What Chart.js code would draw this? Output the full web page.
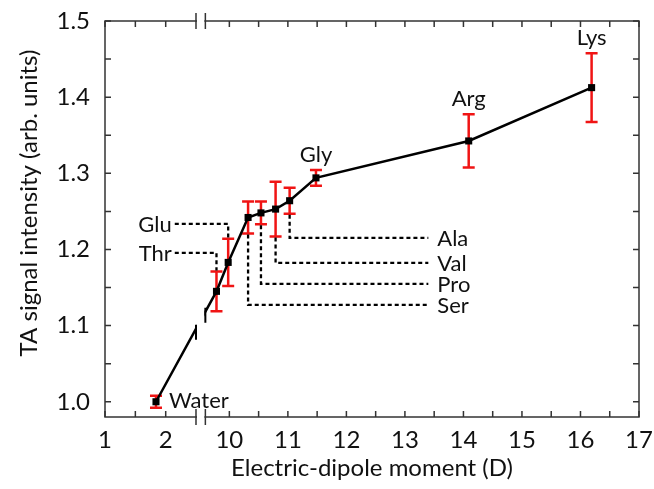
<!DOCTYPE html>
<html>
<head>
<meta charset="utf-8">
<script src="https://cdn.jsdelivr.net/npm/chart.js@4.4.0/dist/chart.umd.min.js"></script>
<style>
  html, body { margin: 0; padding: 0; background: #fff; }
  #wrap { width: 654px; height: 489px; }
</style>
</head>
<body>
<div id="wrap"><canvas id="dipoleChart"></canvas></div>
<script>
/* ─── Data ─── */
const samples   = ["Water", "Thr", "Glu", "Ser", "Pro", "Val", "Ala", "Gly", "Arg", "Lys"];
const dipole    = [1.84, 9.78, 9.98, 10.32, 10.54, 10.79, 11.03, 11.48, 14.09, 16.19];
const intensity = [1.000, 1.145, 1.183, 1.242, 1.248, 1.253, 1.264, 1.294, 1.3425, 1.4125];
const errBar    = [0.008, 0.026, 0.031, 0.021, 0.015, 0.036, 0.017, 0.0105, 0.035, 0.045];

const xTicks      = [1, 1.5, 2, 10, 10.5, 11, 11.5, 12, 12.5, 13, 13.5, 14, 14.5, 15, 15.5, 16, 16.5, 17];
const xTickLabels = ["1", "", "2", "10", "", "11", "", "12", "", "13", "", "14", "", "15", "", "16", "", "17"];
const yTicks      = [1.0, 1.05, 1.1, 1.15, 1.2, 1.25, 1.3, 1.35, 1.4, 1.45, 1.5];
const yTickLabels = ["1.0", "", "1.1", "", "1.2", "", "1.3", "", "1.4", "", "1.5"];

/* leader lines: sample, side, level (signal units) */
const leaderNames  = ["Glu", "Thr", "Ala", "Val", "Pro", "Ser"];
const leaderSide   = ["left", "left", "right", "right", "right", "right"];
const leaderLevel  = [1.2336, 1.1955, 1.2152, 1.1824, 1.1549, 1.1273];
const leaderLeftX  = 2.1;   // end of left labels (D)
const leaderRightX = 13.4;  // end of right dashes (D)

/* labels drawn above their error bar */
const topLabels = ["Gly", "Arg", "Lys"];

/* ─── Broken axis: 1–2 D segment squeezed in front of 10–17 D ─── */
const X_MIN = 7.875;
const BREAK_LO = 9.43, BREAK_HI = 9.59;
function toU(x) {
  return x >= 5 ? x : X_MIN + (x - 1) * 1.0373;
}

const FONT = "Lato, 'Open Sans', sans-serif";
const RED = "#f01414";
const INK = "#111";

/* ─── Drawing plugin: error bars, leaders, frame, labels ─── */
const decorPlugin = {
  id: "decor",
  beforeDatasetsDraw(chart) {
    const { ctx, scales: { x, y } } = chart;
    ctx.save();
    /* error bars */
    ctx.strokeStyle = RED;
    ctx.lineWidth = 2.5;
    dipole.forEach((d, i) => {
      const px = x.getPixelForValue(toU(d));
      const top = y.getPixelForValue(intensity[i] + errBar[i]);
      const bot = y.getPixelForValue(intensity[i] - errBar[i]);
      ctx.beginPath();
      ctx.moveTo(px, top); ctx.lineTo(px, bot);
      ctx.moveTo(px - 6, top); ctx.lineTo(px + 6, top);
      ctx.moveTo(px - 6, bot); ctx.lineTo(px + 6, bot);
      ctx.stroke();
    });

    /* dashed leader lines */
    ctx.strokeStyle = "#000";
    ctx.lineWidth = 2.3;
    ctx.setLineDash([4, 3]);
    leaderNames.forEach((name, k) => {
      const i = samples.indexOf(name);
      const px = x.getPixelForValue(toU(dipole[i]));
      const ly = y.getPixelForValue(leaderLevel[k]);
      ctx.beginPath();
      if (leaderSide[k] === "left") {
        const top = y.getPixelForValue(intensity[i] + errBar[i]);
        ctx.moveTo(x.getPixelForValue(toU(leaderLeftX)) + 3, ly);
        ctx.lineTo(px, ly);
        ctx.lineTo(px, top - 1);
      } else {
        const bot = y.getPixelForValue(intensity[i] - errBar[i]);
        ctx.moveTo(px, bot + 1);
        ctx.lineTo(px, ly);
        ctx.lineTo(x.getPixelForValue(leaderRightX), ly);
      }
      ctx.stroke();
    });
    ctx.restore();
  },

  afterDatasetsDraw(chart) {
    const { ctx, chartArea: a, scales: { x, y } } = chart;
    const bLo = x.getPixelForValue(BREAK_LO);
    const bHi = x.getPixelForValue(BREAK_HI);
    ctx.save();

    /* gap in the data line at the axis break */
    const p0 = { x: x.getPixelForValue(toU(dipole[0])), y: y.getPixelForValue(intensity[0]) };
    const p1 = { x: x.getPixelForValue(toU(dipole[1])), y: y.getPixelForValue(intensity[1]) };
    const yAt = px => p0.y + (p1.y - p0.y) * (px - p0.x) / (p1.x - p0.x);
    const yLo = yAt(bLo), yHi = yAt(bHi);
    ctx.fillStyle = "#fff";
    ctx.fillRect(bLo + 1, yHi - 5, bHi - bLo - 2, yLo - yHi + 10);
    ctx.strokeStyle = "#000";
    ctx.lineWidth = 2;
    ctx.beginPath();
    ctx.moveTo(bLo, yLo - 4); ctx.lineTo(bLo, yLo + 11);
    ctx.moveTo(bHi, yHi - 4); ctx.lineTo(bHi, yHi + 11);
    ctx.stroke();

    /* frame with inward ticks on all four sides */
    ctx.strokeStyle = "#333";
    ctx.lineWidth = 1.5;
    ctx.strokeRect(a.left, a.top, a.right - a.left, a.bottom - a.top);
    ctx.beginPath();
    x.ticks.forEach(t => {
      const px = x.getPixelForValue(t.value);
      ctx.moveTo(px, a.bottom); ctx.lineTo(px, a.bottom - 6);
      ctx.moveTo(px, a.top);    ctx.lineTo(px, a.top + 6);
    });
    y.ticks.forEach(t => {
      const py = y.getPixelForValue(t.value);
      ctx.moveTo(a.left, py);  ctx.lineTo(a.left + 6, py);
      ctx.moveTo(a.right, py); ctx.lineTo(a.right - 6, py);
    });
    ctx.stroke();

    /* axis break marks top and bottom */
    ctx.fillStyle = "#fff";
    ctx.fillRect(bLo + 1, a.top - 2, bHi - bLo - 2, 4);
    ctx.fillRect(bLo + 1, a.bottom - 2, bHi - bLo - 2, 4);
    ctx.lineWidth = 1.5;
    ctx.beginPath();
    [a.top, a.bottom].forEach(ay => {
      ctx.moveTo(bLo, ay - 8); ctx.lineTo(bLo, ay + 8);
      ctx.moveTo(bHi, ay - 8); ctx.lineTo(bHi, ay + 8);
    });
    ctx.stroke();

    /* tick labels */
    ctx.fillStyle = INK;
    ctx.font = "24px " + FONT;
    ctx.textBaseline = "middle";
    ctx.textAlign = "center";
    x.ticks.forEach((t, i) => {
      if (xTickLabels[i]) ctx.fillText(xTickLabels[i], x.getPixelForValue(t.value), 440);
    });
    ctx.textAlign = "right";
    y.ticks.forEach((t, i) => {
      if (yTickLabels[i]) ctx.fillText(yTickLabels[i], a.left - 15, y.getPixelForValue(t.value));
    });

    /* point labels */
    ctx.font = "22px " + FONT;
    topLabels.forEach(name => {
      const i = samples.indexOf(name);
      ctx.textAlign = "center";
      ctx.fillText(name, x.getPixelForValue(toU(dipole[i])),
                   y.getPixelForValue(intensity[i] + errBar[i]) - 15);
    });
    ctx.textAlign = "left";
    ctx.fillText(samples[0], x.getPixelForValue(toU(dipole[0])) + 13, y.getPixelForValue(intensity[0]) - 1);

    leaderNames.forEach((name, k) => {
      const ly = y.getPixelForValue(leaderLevel[k]);
      if (leaderSide[k] === "left") {
        ctx.textAlign = "right";
        ctx.fillText(name, x.getPixelForValue(toU(leaderLeftX)), ly + 1);
      } else {
        ctx.textAlign = "left";
        ctx.fillText(name, x.getPixelForValue(leaderRightX) + 9, ly + 1);
      }
    });

    /* axis titles */
    ctx.font = "24px " + FONT;
    ctx.textAlign = "center";
    ctx.fillText("Electric-dipole moment (D)", (a.left + a.right) / 2, 468);
    ctx.translate(29, 203);
    ctx.rotate(-Math.PI / 2);
    ctx.fillText("TA signal intensity (arb. units)", 0, 0);
    ctx.restore();
  },
};

/* ─── Chart ─── */
function initDipoleChart() {
  const canvas = document.getElementById("dipoleChart");
  if (!canvas || !window.Chart) return;

  new Chart(canvas, {
    type: "line",
    data: {
      datasets: [{
        data: dipole.map((d, i) => ({ x: toU(d), y: intensity[i] })),
        borderColor: "#000",
        borderWidth: 2.5,
        pointStyle: "rect",
        pointRadius: 5,
        pointBackgroundColor: "#000",
        pointBorderWidth: 0,
        tension: 0,
      }],
    },
    options: {
      responsive: true, maintainAspectRatio: false,
      animation: false,
      layout: { padding: { top: 21, right: 15, left: 0, bottom: 0 } },
      plugins: { legend: { display: false }, tooltip: { enabled: false } },
      scales: {
        x: {
          type: "linear", min: X_MIN, max: 17,
          grid: { display: false, drawTicks: false },
          border: { display: false },
          afterBuildTicks: s => { s.ticks = xTicks.map(v => ({ value: toU(v) })); },
          afterFit: s => { s.height = 72; },
          ticks: { display: false },
        },
        y: {
          min: 0.98, max: 1.5,
          grid: { display: false, drawTicks: false },
          border: { display: false },
          afterBuildTicks: s => { s.ticks = yTicks.map(v => ({ value: v })); },
          afterFit: s => { s.width = 105; },
          ticks: { display: false },
        },
      },
    },
    plugins: [decorPlugin],
  });
}

document.addEventListener("DOMContentLoaded", initDipoleChart);
</script>
</body>
</html>
